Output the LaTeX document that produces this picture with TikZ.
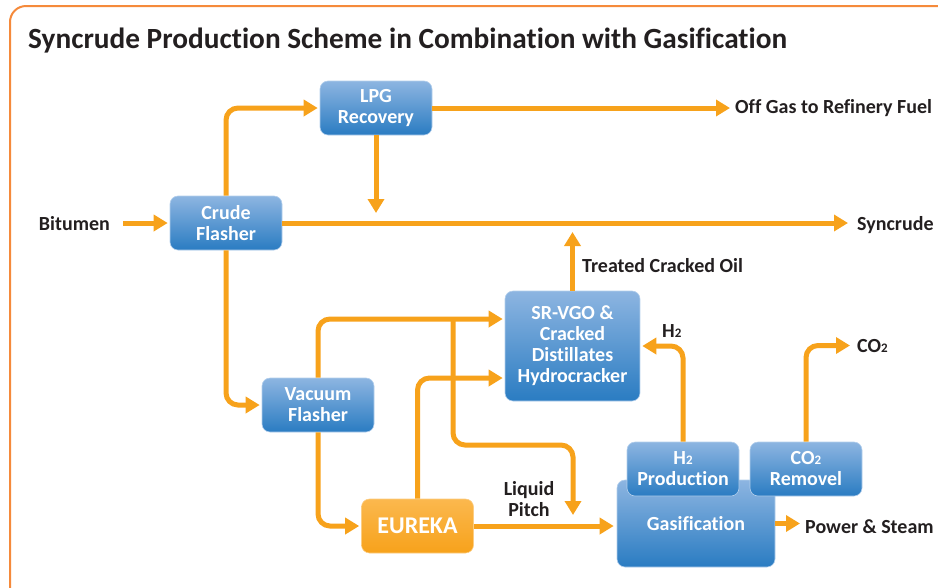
\documentclass[tikz,border=0pt]{standalone}
\usepackage{fontspec}
\setmainfont[Ligatures=NoCommon]{Carlito}
\usetikzlibrary{arrows.meta}
\definecolor{flowor}{HTML}{F7A21B}
\definecolor{framecol}{HTML}{F58A3B}
\definecolor{boxtop}{HTML}{8DB5E1}
\definecolor{boxbot}{HTML}{2A7CC2}
\definecolor{boxline}{HTML}{B3CFEC}
\definecolor{eurtop}{HTML}{FBB84E}
\definecolor{eurbot}{HTML}{F7A21B}
\definecolor{ink}{HTML}{231F20}
\newcommand{\subtwo}{{\fontsize{13}{13}\selectfont 2}}

\begin{document}
\begin{tikzpicture}[x=1pt,y=-1pt,
    box/.style={draw=boxline,line width=0.6pt,rounded corners=8pt,top color=boxtop,bottom color=boxbot,text=white,
      font=\fontsize{20}{21}\selectfont\bfseries,align=center,minimum width=112pt,minimum height=54pt,inner sep=2pt},
    flow/.style={draw=flowor,line width=5pt,rounded corners=12pt,-{Triangle[length=14pt,width=16pt]}},
    lbl/.style={font=\fontsize{20}{21}\selectfont\bfseries,text=ink,inner sep=0pt}]

% Page and frame
\useasboundingbox (0,0) rectangle (938,587);
\clip (0,0) rectangle (938,587);
\draw[framecol,line width=2pt,rounded corners=16pt] (10,6) rectangle (980,630);
\node[lbl,anchor=base west,font=\fontsize{29.3}{32}\selectfont\bfseries] (title) at (28,48) {Syncrude Production Scheme in Combination with Gasification};

% Units
\node[box] (lpg) at (376,108) {LPG\\Recovery};
\node[box] (crude) at (226,223) {Crude\\Flasher};
\node[box] (vac) at (318,405) {Vacuum\\Flasher};
\node[box,minimum width=135pt,minimum height=110pt] (hc) at (572.5,346) {SR-VGO \&\\Cracked\\Distillates\\Hydrocracker};
\node[box,minimum width=158pt,minimum height=87pt] (gas) at (696,523.5) {Gasification};
\node[box] (h2p) at (683,469) {H\subtwo\\Production};
\node[box] (co2r) at (806,469) {CO\subtwo\\Removel};
\node[box,top color=eurtop,bottom color=eurbot,draw=eurtop!70!white,font=\fontsize{24}{26}\selectfont\bfseries] (eureka) at (417.5,526) {EUREKA};

% Stream labels
\node[lbl,anchor=base east] (bit) at (110,230) {Bitumen};
\node[lbl,anchor=base west] (offgas) at (735,113) {Off Gas to Refinery Fuel};
\node[lbl,anchor=base west] (syn) at (857,230) {Syncrude};
\node[lbl,anchor=base west] (tco) at (582,272) {Treated Cracked Oil};
\node[lbl,anchor=base west] (h2lab) at (662,337) {H\subtwo};
\node[lbl,anchor=base west] (co2lab) at (857,352) {CO\subtwo};
\node[lbl,align=center] (pitch) at (529,499) {Liquid\\Pitch};
\node[lbl,anchor=base west] (power) at (805,533) {Power \& Steam};

% Split points
\coordinate (split) at (453,319);
\coordinate (turn) at (573,445);
\coordinate (pitchin) at (573,515);

% Streams
\draw[flow,shorten >=2pt] ([xshift=13pt]crude.west -| bit.east) -- (crude.west);
\draw[flow,shorten >=2pt] (crude.north) |- (lpg.west);
\draw[flow,shorten >=5pt] (lpg.east) -- (lpg.east -| offgas.west);
\draw[flow,shorten >=10pt] (lpg.south) -- (lpg.south |- crude.east);
\draw[flow,shorten >=9pt] (crude.east) -- (crude.east -| syn.west);
\draw[flow,shorten >=9pt] (hc.north) -- (hc.north |- crude.east);
\draw[flow,shorten >=2pt] (crude.south) |- (vac.west);
\draw[flow,shorten >=2pt] (vac.north) |- ([yshift=27pt]hc.west);
\draw[flow] (split) |- (turn) -- (pitchin);
\draw[flow,shorten >=2pt] (vac.south) |- (eureka.west);
\draw[flow,shorten >=2pt] (eureka.north) |- ([yshift=-32pt]hc.west);
\draw[flow,shorten >=3pt] (eureka.east) -- (eureka.east -| gas.west);
\draw[flow,shorten >=2pt] (h2p.north) |- (hc.east);
\draw[flow,shorten >=7pt] (co2r.north) |- (co2lab.west);
\draw[flow,shorten >=5pt] (gas.east) -- (gas.east -| power.west);
\end{tikzpicture}
\end{document}
